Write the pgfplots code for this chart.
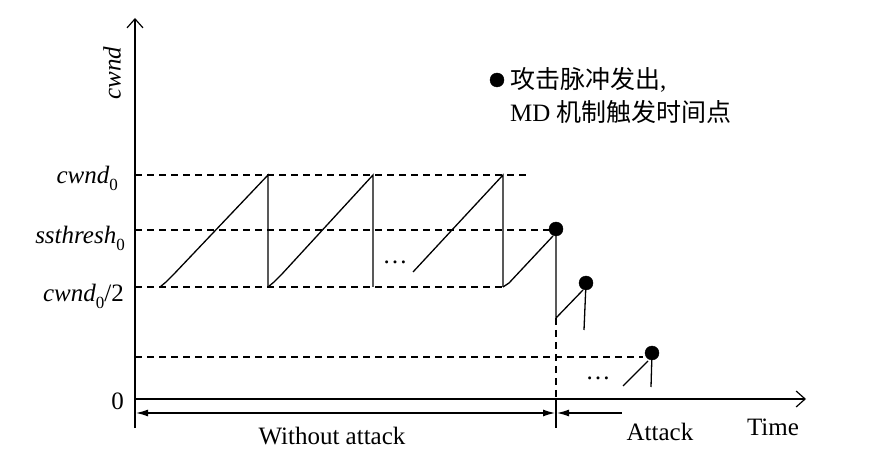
\documentclass[border=0pt]{standalone}
\usepackage{fontspec}
\setmainfont{Liberation Serif}
\newfontfamily\cjk{Noto Sans CJK SC}
\usepackage{pgfplots}
\pgfplotsset{compat=1.18}
\usetikzlibrary{arrows.meta}
\newcommand{\F}{\fontsize{25}{30}\selectfont}
\newcommand{\sub}[1]{\raisebox{-0.28em}{\fontsize{17}{17}\selectfont\upshape #1}}
\begin{document}
\begin{tikzpicture}
\begin{axis}[
  hide axis, scale only axis, width=876pt, height=454pt,
  xmin=0, xmax=876, ymin=0, ymax=454, y dir=reverse,
  clip=false,
]
\path (rel axis cs:0,0) rectangle (rel axis cs:1,1);
% axes
\addplot[line width=1.3pt, -{Straight Barb[length=9pt,width=16pt,line width=1.2pt]}] coordinates {(135,428) (135,18)};
\addplot[line width=1.3pt, -{Straight Barb[length=9pt,width=16pt,line width=1.2pt]}] coordinates {(135,399) (806,399)};
% dashed reference levels
\addplot[line width=1.1pt, dash pattern=on 7pt off 5pt] coordinates {(135,175) (530,175)};
\addplot[line width=1.1pt, dash pattern=on 7pt off 5pt] coordinates {(135,230) (552,230)};
\addplot[line width=1.1pt, dash pattern=on 7pt off 5pt] coordinates {(135,287) (505,287)};
\addplot[line width=1.1pt, dash pattern=on 7pt off 5pt] coordinates {(135,357) (643,357)};
\addplot[line width=1.1pt, dash pattern=on 7pt off 5pt] coordinates {(556,318) (556,400)};
\addplot[line width=1.2pt] coordinates {(556,400) (556,428)};
% sawtooth without attack
\addplot[line width=1.3pt] coordinates {(160,287) (166,282) (174,274) (268,175) (268,287)};
\addplot[line width=1.3pt] coordinates {(268,287) (274,282) (282,274) (373,175) (373,287)};
\addplot[line width=1.3pt] coordinates {(413,272) (503,175) (503,287)};
\addplot[line width=1.3pt] coordinates {(503,287) (509,283) (553,236)};
% attack phase
\addplot[line width=1.3pt] coordinates {(556,229) (556,318) (583,290)};
\addplot[line width=1.3pt] coordinates {(586,283) (584,330)};
\addplot[line width=1.3pt] coordinates {(623,386) (648,361)};
\addplot[line width=1.3pt] coordinates {(652,353) (651,387)};
\addplot[only marks, mark=*, mark size=7pt, black] coordinates {(556,229) (586,283) (652,353) (497,80)};
% time span arrows
\addplot[line width=1.2pt, {Latex[length=12pt,width=7pt]}-{Latex[length=12pt,width=7pt]}] coordinates {(136,413) (555,413)};
\addplot[line width=1.2pt, {Latex[length=12pt,width=7pt]}-] coordinates {(557,413) (622,413)};
% texts
\node[anchor=east, inner sep=0pt] at (axis cs:124,401) {\F 0};
\node[rotate=90, inner sep=0pt] at (axis cs:112,73) {\F\itshape cwnd};
\node[anchor=east, inner sep=0pt] at (axis cs:118,178) {\F\itshape cwnd\sub{0}};
\node[anchor=east, inner sep=0pt] at (axis cs:125,238) {\F\itshape ssthresh\sub{0}};
\node[anchor=east, inner sep=0pt] at (axis cs:124,296) {\F{\itshape cwnd}\sub{0}/2};
\node[inner sep=0pt] at (axis cs:395,262) {\F\dots};
\node[inner sep=0pt] at (axis cs:598,378) {\F\dots};
\node[anchor=west, inner sep=0pt] at (axis cs:510,80) {\F{\cjk 攻击脉冲发出}\raisebox{0pt}{,}};
\node[anchor=west, inner sep=0pt] at (axis cs:510,112) {\F MD {\cjk 机制触发时间点}};
\node[inner sep=0pt] at (axis cs:332,436) {\F Without attack};
\node[inner sep=0pt] at (axis cs:660,432) {\F Attack};
\node[inner sep=0pt] at (axis cs:773,427) {\F Time};
\end{axis}
\end{tikzpicture}
\end{document}
